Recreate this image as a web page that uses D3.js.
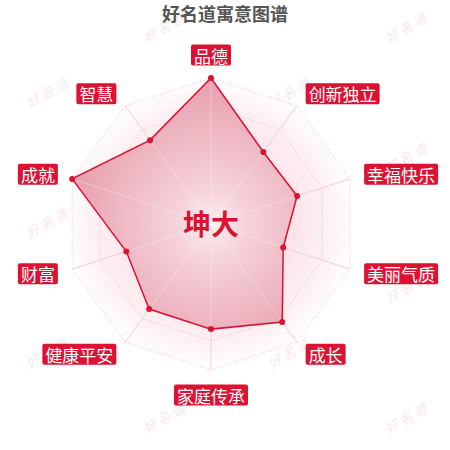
<!DOCTYPE html>
<html>
<head>
<meta charset="utf-8">
<script src="https://cdn.jsdelivr.net/npm/d3@7"></script>
<style>
  html, body { margin: 0; padding: 0; background: #fff; }
  svg { display: block; font-family: "Noto Sans CJK SC", "Noto Sans", sans-serif; }
</style>
</head>
<body>
<svg id="chart" width="450" height="450"></svg>
<script>
// axes go clockwise starting from the top
var categories = ['品德', '创新独立', '幸福快乐', '美丽气质', '成长', '家庭传承', '健康平安', '财富', '成就', '智慧'];
var values = [100, 61, 62, 52, 83, 72, 72, 61, 100, 71];
var maxValue = 100;
var title = '好名道寓意图谱';
var centerName = '坤大';
var watermark = '好名道';

var width = 450, height = 450;
var cx = 211, cy = 224, R = 146;
var red = '#dc1232';

var svg = d3.select('#chart');
var defs = svg.append('defs');

// both gradients live in the translated chart group, so centred on 0,0
var gridGrad = defs.append('radialGradient').attr('id', 'gridGrad')
    .attr('cx', 0).attr('cy', 0).attr('r', R).attr('gradientUnits', 'userSpaceOnUse');
gridGrad.append('stop').attr('offset', 0).attr('stop-color', '#fff');
gridGrad.append('stop').attr('offset', 0.5).attr('stop-color', '#fbe3e8');
gridGrad.append('stop').attr('offset', 0.78).attr('stop-color', '#fdeff2');
gridGrad.append('stop').attr('offset', 1).attr('stop-color', '#fff');

var areaGrad = defs.append('radialGradient').attr('id', 'areaGrad')
    .attr('cx', 0).attr('cy', 0).attr('r', R).attr('gradientUnits', 'userSpaceOnUse');
areaGrad.append('stop').attr('offset', 0).attr('stop-color', '#fbeef1');
areaGrad.append('stop').attr('offset', 0.25).attr('stop-color', '#f5d2d9');
areaGrad.append('stop').attr('offset', 0.6).attr('stop-color', '#efbac5');
areaGrad.append('stop').attr('offset', 1).attr('stop-color', '#e79eae');

// faint tiled watermark
var wm = svg.append('g').attr('class', 'watermark');
for (var i = 0; i < 7; i++) {
    for (var j = 0; j < 2; j++) {
        var wx = (i % 2 ? 48 : 165) + j * 242;
        var wy = 27 + i * 65;
        wm.append('text')
            .attr('transform', 'translate(' + wx + ',' + wy + ') rotate(-30)')
            .attr('text-anchor', 'middle')
            .attr('dominant-baseline', 'central')
            .attr('font-size', 13)
            .attr('font-style', 'italic')
            .attr('letter-spacing', 3)
            .attr('fill', 'rgba(215,120,140,0.2)')
            .text(watermark);
    }
}

svg.append('text')
    .attr('x', 225).attr('y', 13)
    .attr('text-anchor', 'middle')
    .attr('dominant-baseline', 'central')
    .attr('font-size', 18)
    .attr('font-weight', 'bold')
    .attr('fill', '#555')
    .text(title);

var n = categories.length;
var angle = d3.scaleLinear().domain([0, n]).range([0, 2 * Math.PI]);
var r = d3.scaleLinear().domain([0, maxValue]).range([0, R]);

// point relative to the centre
function pt(i, rad) {
    var a = angle(i);
    return [rad * Math.sin(a), -rad * Math.cos(a)];
}

var g = svg.append('g').attr('transform', 'translate(' + cx + ',' + cy + ')');

// grid background
g.append('polygon')
    .attr('points', d3.range(n).map(function(i) { return pt(i, R); }).join(' '))
    .attr('fill', 'url(#gridGrad)');

// rings
var ticks = r.ticks(5).filter(function(t) { return t > 0; });
g.selectAll('.ring').data(ticks).enter().append('polygon')
    .attr('class', 'ring')
    .attr('points', function(t) { return d3.range(n).map(function(i) { return pt(i, r(t)); }).join(' '); })
    .attr('fill', 'none')
    .attr('stroke', '#eeb9c4')
    .attr('stroke-width', 1)
    .attr('stroke-dasharray', '1,2');

// spokes
g.selectAll('.spoke').data(categories).enter().append('line')
    .attr('class', 'spoke')
    .attr('x1', 0).attr('y1', 0)
    .attr('x2', function(d, i) { return pt(i, R)[0]; })
    .attr('y2', function(d, i) { return pt(i, R)[1]; })
    .attr('stroke', '#f2cfd6')
    .attr('stroke-width', 1);

// data area
var line = d3.lineRadial()
    .angle(function(d, i) { return angle(i); })
    .radius(function(d) { return r(d); })
    .curve(d3.curveLinearClosed);

g.append('path')
    .attr('d', line(values))
    .attr('fill', 'url(#areaGrad)')
    .attr('stroke', red)
    .attr('stroke-width', 1.5);

// spokes show through the fill a little
g.selectAll('.spoke2').data(values).enter().append('line')
    .attr('x1', 0).attr('y1', 0)
    .attr('x2', function(d, i) { return pt(i, r(d))[0]; })
    .attr('y2', function(d, i) { return pt(i, r(d))[1]; })
    .attr('stroke', 'rgba(255,255,255,0.3)')
    .attr('stroke-width', 1);

g.selectAll('.dot').data(values).enter().append('circle')
    .attr('cx', function(d, i) { return pt(i, r(d))[0]; })
    .attr('cy', function(d, i) { return pt(i, r(d))[1]; })
    .attr('r', 3)
    .attr('fill', red);

// axis names in red boxes
var labels = g.selectAll('.name').data(categories).enter().append('g').attr('class', 'name');
labels.each(function(d, i) {
    var p = pt(i, R + 15);
    var a = angle(i);
    var s = Math.sin(a), c = Math.cos(a);
    var anchor = Math.abs(s) < 0.01 ? 'middle' : (s > 0 ? 'start' : 'end');
    var sel = d3.select(this);
    var txt = sel.append('text')
        .attr('font-size', 17)
        .attr('fill', '#fff')
        .attr('text-anchor', anchor)
        .attr('dominant-baseline', 'central')
        .text(d);
    var ty = p[1];
    if (Math.abs(s) < 0.01) ty = c > 0 ? p[1] - 8 : p[1] + 10;
    var tx = p[0] + (anchor === 'start' ? 3 : anchor === 'end' ? -3 : 0);
    txt.attr('x', tx).attr('y', ty);
    var bb = txt.node().getBBox();
    sel.insert('rect', 'text')
        .attr('x', bb.x - 3).attr('y', ty - 10.5)
        .attr('width', bb.width + 6).attr('height', 21)
        .attr('rx', 2)
        .attr('fill', red);
});

g.append('text')
    .attr('x', 0).attr('y', -1)
    .attr('text-anchor', 'middle')
    .attr('dominant-baseline', 'central')
    .attr('font-size', 28)
    .attr('font-weight', 'bold')
    .attr('fill', red)
    .text(centerName);
</script>
</body>
</html>
